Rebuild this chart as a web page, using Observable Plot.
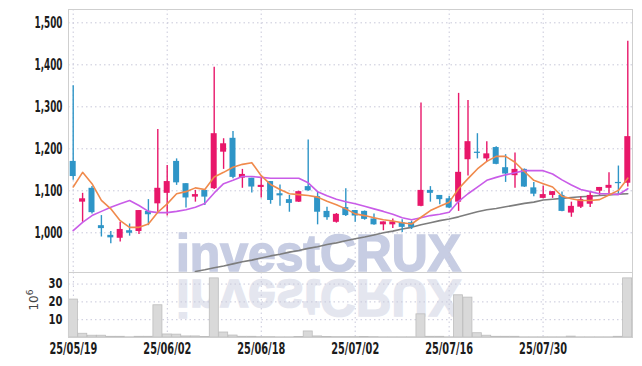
<!DOCTYPE html>
<html><head><meta charset="utf-8">
<script src="https://cdn.jsdelivr.net/npm/d3@7"></script>
<script src="https://cdn.jsdelivr.net/npm/@observablehq/plot@0.6"></script>
<style>
html,body{margin:0;padding:0;background:#fff;}
#wrap{position:relative;width:642px;height:366px;overflow:hidden;background:#fff;}
#wm{position:absolute;left:0;top:0;}
#price,#vol{position:absolute;left:0;width:642px;}
#price{top:0;} #vol{top:272px;}
#unit{position:absolute;left:13px;top:292px;width:40px;text-align:center;font:12px "DejaVu Sans",sans-serif;color:#444;transform:rotate(-90deg);transform-origin:center;}
#unit sup{font-size:9px;}
</style></head>
<body>
<div id="wrap">
<svg id="wm" width="642" height="366">
  <text x="176" y="271" font-family="Liberation Sans, Arial, sans-serif" font-weight="bold" font-size="52" fill="#c7cde3" stroke="#c7cde3" stroke-width="1.6" textLength="285" lengthAdjust="spacingAndGlyphs">investCRUX</text>
  <g transform="translate(0,551) scale(1,-1)">
    <text x="176" y="271" font-family="Liberation Sans, Arial, sans-serif" font-weight="bold" font-size="52" fill="#e4e6ef" stroke="#e4e6ef" stroke-width="1.6" textLength="285" lengthAdjust="spacingAndGlyphs">investCRUX</text>
  </g>
</svg>
<div id="price"></div>
<div id="vol"></div>
<div id="unit">10<sup>6</sup></div>
</div>
<script>
const dates = ["25/05/19","25/05/20","25/05/21","25/05/22","25/05/23","25/05/26","25/05/27","25/05/28","25/05/29","25/05/30",
"25/06/02","25/06/04","25/06/05","25/06/09","25/06/10","25/06/11","25/06/12","25/06/13","25/06/16","25/06/17",
"25/06/18","25/06/19","25/06/20","25/06/23","25/06/24","25/06/25","25/06/26","25/06/27","25/06/30","25/07/01",
"25/07/02","25/07/03","25/07/04","25/07/07","25/07/08","25/07/09","25/07/10","25/07/11","25/07/14","25/07/15",
"25/07/16","25/07/17","25/07/18","25/07/21","25/07/22","25/07/23","25/07/24","25/07/25","25/07/28","25/07/29",
"25/07/30","25/07/31","25/08/01","25/08/04","25/08/05","25/08/06","25/08/07","25/08/08","25/08/11","25/08/12"];
const opens = [1170,1073,1106,1017,994,987,1005,1003,1051,1069,1094,1170,1117,1085,1101,1105,1192,1225,1130,1130,
1108,1122,1093,1079,1073,1110,1086,1051,1025,1060,1053,1051,1033,1019,1019,1024,1024,1063,1101,1089,
1081,1073,1174,1192,1176,1203,1155,1136,1151,1107,1082,1089,1089,1047,1061,1068,1099,1106,1120,1118];
const highs = [1350,1094,1110,1041,1003,1025,1021,1053,1079,1246,1160,1176,1117,1101,1101,1394,1224,1241,1151,1130,
1130,1122,1114,1089,1099,1221,1097,1061,1046,1105,1053,1052,1045,1026,1033,1031,1028,1309,1110,1089,
1087,1332,1315,1236,1217,1205,1186,1190,1152,1120,1111,1098,1097,1073,1085,1097,1108,1143,1159,1456];
const lows = [1125,1025,1045,990,974,978,992,996,1017,1049,1040,1113,1059,1073,1065,1103,1151,1129,1106,1095,
1083,1068,1063,1049,1072,1099,1019,1030,1023,1039,1025,1030,1018,1005,1010,1001,1008,1062,1073,1067,
1058,1051,1135,1176,1168,1162,1120,1106,1108,1086,1081,1082,1050,1037,1058,1060,1089,1089,1093,1109];
const closes = [1134,1081,1048,1010,988,1008,999,1053,1043,1106,1122,1119,1083,1091,1085,1236,1212,1132,1139,1109,
1113,1077,1088,1070,1098,1100,1049,1036,1044,1041,1040,1032,1019,1026,1026,1013,1013,1101,1094,1079,
1059,1144,1217,1189,1188,1163,1140,1151,1109,1092,1091,1098,1051,1063,1079,1089,1108,1113,1117,1229];
const volume = [21.3,2.1,1.0,1.0,0.4,0.4,0.1,0.4,0.4,18.1,1.7,1.6,0.6,0.6,0.3,33.2,2.8,1.1,0.4,0.4,
0.2,0.2,0.1,0.1,0.3,3.4,0.6,0.3,0.2,0.2,0.2,0.3,0.2,0.1,0.1,0.1,0.1,13.0,0.4,0.4,
0.1,23.7,22.4,2.4,1.0,0.4,0.4,0.4,0.1,0.1,0.1,0.1,0.1,0.5,0.1,0.1,0.1,0.1,0.4,33.2];
const ma5 = [1109,1144,1117,1077,1057,1029,1013,1013,1021,1049,1069,1093,1098,1107,1103,1133,1144,1156,1163,1167,
1136,1115,1103,1093,1091,1089,1085,1075,1067,1057,1045,1041,1036,1031,1028,1024,1021,1037,1053,1063,
1073,1105,1129,1152,1170,1182,1182,1168,1146,1125,1117,1109,1087,1081,1077,1077,1079,1090,1101,1130];
const ma20 = [1005,1025,1041,1051,1061,1069,1077,1065,1051,1048,1048,1051,1055,1061,1070,1095,1117,1125,1134,1134,
1132,1130,1130,1130,1130,1119,1098,1088,1080,1074,1069,1063,1057,1051,1044,1036,1031,1036,1041,1044,
1049,1075,1093,1109,1125,1132,1138,1143,1148,1148,1148,1140,1126,1114,1103,1098,1093,1093,1091,1105];
const ma60 = [null,null,null,null,null,null,null,null,null,null,null,null,null,908,912,917,921,926,931,935,
940,945,949,954,958,963,967,972,976,981,986,990,995,1000,1004,1009,1013,1019,1024,1029,
1033,1038,1044,1050,1055,1058,1062,1066,1070,1073,1078,1080,1082,1084,1086,1087,1089,1090,1092,1093];
const tickDates = ["25/05/19","25/06/02","25/06/18","25/07/02","25/07/16","25/07/30"];
const priceTicks = [1000,1100,1200,1300,1400,1500];
const volTicks = [10,20,30];

const rows = dates.map((d,i)=>({date:d, open:opens[i], high:highs[i], low:lows[i], close:closes[i],
  vol:volume[i], ma5:ma5[i], ma20:ma20[i], ma60:ma60[i]}));
const UP = "#e8176a", DOWN = "#2e95c7";
const col = d => d.close >= d.open ? UP : DOWN;
const GRID = "#c8c8da";
const font = {fontFamily:'"DejaVu Sans Condensed","DejaVu Sans",sans-serif', fontSize:"14px",
  fontWeight:"bold", color:"#1c1c1c", background:"transparent", overflow:"visible"};

const price = Plot.plot({
  width:642, height:272, marginTop:9, marginBottom:0, marginLeft:68, marginRight:10,
  x:{type:"band", domain:dates, padding:0, round:false, axis:null},
  y:{domain:[905.5,1531.7], ticks:priceTicks, tickFormat:d3.format(","), tickSize:0, tickPadding:6, label:null},
  color:{type:"identity"},
  style:font,
  marks:[
    Plot.ruleY(priceTicks, {stroke:GRID, strokeDasharray:"1.5 3"}),
    Plot.ruleX(tickDates, {stroke:GRID, strokeDasharray:"1.5 3"}),
    Plot.line(rows.filter(d=>d.ma60!=null), {x:"date", y:"ma60", stroke:"#7d7d7d", strokeWidth:1.6, clip:true}),
    Plot.ruleX(rows, {x:"date", y1:"low", y2:"high", stroke:col, strokeWidth:1.4}),
    Plot.barY(rows, {x:"date", y1:"open", y2:"close", fill:col, insetLeft:1.7, insetRight:1.7}),
    Plot.line(rows, {x:"date", y:"ma20", stroke:"#c95ce8", strokeWidth:1.6}),
    Plot.line(rows, {x:"date", y:"ma5", stroke:"#f08a4c", strokeWidth:1.6}),
    Plot.frame({stroke:"#cfcfcf"})
  ]
});
document.getElementById("price").appendChild(price);

const vol = Plot.plot({
  width:642, height:94, marginTop:0, marginBottom:29, marginLeft:68, marginRight:10,
  x:{type:"band", domain:dates, padding:0.04, round:false, ticks:tickDates, tickSize:0, tickPadding:6, label:null},
  y:{domain:[0,36.5], ticks:volTicks, tickSize:0, tickPadding:6, label:null},
  style:font,
  marks:[
    Plot.ruleY(volTicks, {stroke:GRID, strokeDasharray:"1.5 3"}),
    Plot.ruleX(tickDates, {stroke:GRID, strokeDasharray:"1.5 3"}),
    Plot.barY(rows, {x:"date", y:"vol", fill:"#d9d9d9", stroke:"#bdbdbd", strokeWidth:0.8}),
    Plot.frame({stroke:"#cfcfcf"})
  ]
});
document.getElementById("vol").appendChild(vol);

// condensed look for the tick labels (real text, squeezed to the reference widths)
for (const svg of [price, vol]) {
  for (const t of svg.querySelectorAll("text")) {
    const s = t.textContent;
    if (/^\d\d\/\d\d\/\d\d$/.test(s)) { t.setAttribute("font-size", 15); t.setAttribute("textLength", 48); }
    else if (/^\d,\d{3}$/.test(s)) { t.setAttribute("font-size", 16); t.setAttribute("textLength", 28); }
    else if (/^\d\d$/.test(s)) { t.setAttribute("font-size", 13.5); t.setAttribute("textLength", 14); }
    else continue;
    t.setAttribute("lengthAdjust", "spacingAndGlyphs");
  }
}
</script>
</body></html>
